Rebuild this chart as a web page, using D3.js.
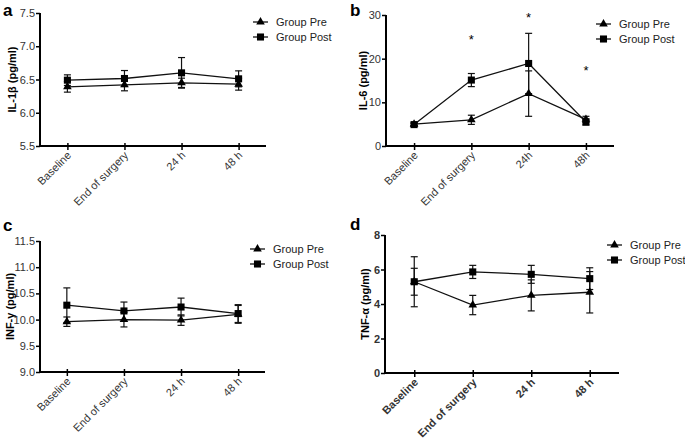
<!DOCTYPE html>
<html>
<head>
<meta charset="utf-8">
<script src="https://cdnjs.cloudflare.com/ajax/libs/d3/7.8.5/d3.min.js"></script>
<style>
  body { margin: 0; background: #fff; }
  svg { font-family: "Liberation Sans", Arial, sans-serif; }
</style>
</head>
<body>
<div class="graph"></div>
<script>
var width = 685;
var height = 440;

// categories
var catsA = ["Baseline", "End of surgery", "24 h", "48 h"];
var catsB = ["Baseline", "End of surgery", "24h", "48h"];
var catsC = ["Baseline", "End of surgery", "24 h", "48 h"];
var catsD = ["Baseline", "End of surgery", "24 h", "48 h"];

// panel a: IL-1b
var preA = [6.39, 6.42, 6.45, 6.43];
var preErrA = [0.08, 0.09, 0.07, 0.09];
var postA = [6.49, 6.515, 6.60, 6.51];
var postErrA = [0.08, 0.12, 0.23, 0.12];
var ticksA = [5.5, 6.0, 6.5, 7.0, 7.5];

// panel b: IL-6
var preB = [5.0, 6.0, 12.0, 6.1];
var preErrB = [0.3, 1.05, 5.2, 0.7];
var postB = [4.9, 15.1, 18.9, 5.5];
var postErrB = [0.3, 1.5, 6.9, 0.7];
var ticksB = [0, 10, 20, 30];
var starsB = [null, 25, 30, 17.8];

// panel c: INF-y
var preC = [9.96, 10.0, 9.99, 10.1];
var preErrC = [0.09, 0.14, 0.1, 0.17];
var postC = [10.275, 10.165, 10.24, 10.115];
var postErrC = [0.33, 0.17, 0.17, 0.17];
var ticksC = [9.0, 9.5, 10.0, 10.5, 11.0, 11.5];

// panel d: TNF-a
var preD = [5.29, 3.94, 4.50, 4.68];
var preErrD = [0.78, 0.56, 0.9, 1.2];
var postD = [5.29, 5.86, 5.72, 5.47];
var postErrD = [1.45, 0.38, 0.52, 0.63];
var ticksD = [0, 2, 4, 6, 8];

var seriesNames = ["Group Pre", "Group Post"];

var svg = d3.select(".graph").append("svg")
  .attr("width", width)
  .attr("height", height);

function drawPanel(p) {
    var g = svg.append("g");

    var x = d3.scalePoint()
        .domain(p.cats)
        .range([p.x0, p.x1])
        .padding(p.pad);

    var y = d3.scaleLinear()
        .domain([p.ticks[0], p.ticks[p.ticks.length - 1]])
        .range([p.y1, p.y0]);

    // y axis
    var yAxis = d3.axisLeft(y)
        .tickValues(p.ticks)
        .tickSize(4)
        .tickPadding(1)
        .tickFormat(p.fmt);
    var yg = g.append("g")
        .attr("transform", "translate(" + p.x0 + ",0)")
        .call(yAxis);
    yg.select(".domain").attr("stroke-width", 2).attr("d", "M0," + (p.y0) + "V" + (p.y1 + 1));
    yg.selectAll(".tick line").attr("stroke-width", 1.5);
    yg.selectAll(".tick text")
        .attr("fill", "#333")
        .style("font-size", "11px")
        .style("font-weight", p.boldTicks ? "bold" : "normal");

    // x axis
    var xAxis = d3.axisBottom(x).tickSize(4).tickSizeOuter(0);
    var xg = g.append("g")
        .attr("transform", "translate(0," + p.y1 + ")")
        .call(xAxis);
    xg.select(".domain").attr("stroke-width", 2).attr("d", "M" + (p.x0 - 1) + ",0H" + p.x1);
    xg.selectAll(".tick line").attr("y1", -3).attr("stroke-width", 1.5);
    xg.selectAll(".tick text")
        .attr("fill", "#333")
        .style("font-size", "11px")
        .style("font-weight", p.boldTicks ? "bold" : "normal")
        .style("text-anchor", "end")
        .attr("dy", null)
        .attr("y", null)
        .attr("transform", "translate(4,10) rotate(-45)");

    // y title
    g.append("text")
        .attr("transform", "translate(" + p.titleX + "," + ((p.y0 + p.y1) / 2) + ") rotate(-90)")
        .style("text-anchor", "middle")
        .style("font-size", "11px")
        .style("font-weight", "bold")
        .text(p.title);

    // panel letter
    g.append("text")
        .attr("x", p.letterX)
        .attr("y", p.letterY)
        .style("font-size", "17px")
        .style("font-weight", "bold")
        .text(p.letter);

    var series = [
        {mean: p.pre, err: p.preErr, shape: d3.symbolTriangle, size: 32},
        {mean: p.post, err: p.postErr, shape: d3.symbolSquare, size: 50}
    ];

    var line = d3.line()
        .x(function (d, i) { return x(p.cats[i]); })
        .y(function (d) { return y(d); });

    series.forEach(function (s) {
        // error bars
        s.mean.forEach(function (m, i) {
            var cx = x(p.cats[i]);
            var eb = g.append("g").attr("stroke", "#111").attr("stroke-width", 1.2);
            eb.append("line").attr("x1", cx).attr("x2", cx)
                .attr("y1", y(m - s.err[i])).attr("y2", y(m + s.err[i]));
            [m - s.err[i], m + s.err[i]].forEach(function (v) {
                eb.append("line").attr("x1", cx - 3.5).attr("x2", cx + 3.5)
                    .attr("y1", y(v)).attr("y2", y(v));
            });
        });
    });

    series.forEach(function (s) {
        g.append("path")
            .datum(s.mean)
            .attr("fill", "none")
            .attr("stroke", "#111")
            .attr("stroke-width", 1.3)
            .attr("d", line);
        g.selectAll(null)
            .data(s.mean)
            .enter()
            .append("path")
            .attr("transform", function (d, i) { return "translate(" + x(p.cats[i]) + "," + y(d) + ")"; })
            .attr("d", d3.symbol().type(s.shape).size(s.size))
            .attr("fill", "#000");
    });

    // asterisks
    if (p.stars) {
        p.stars.forEach(function (v, i) {
            if (v === null) return;
            g.append("text")
                .attr("x", x(p.cats[i]))
                .attr("y", y(v) + 7)
                .style("text-anchor", "middle")
                .style("font-size", "13px")
                .text("*");
        });
    }

    // legend
    seriesNames.forEach(function (name, i) {
        var ly = p.legY + i * 15;
        g.append("line")
            .attr("x1", p.legX).attr("x2", p.legX + 15)
            .attr("y1", ly).attr("y2", ly)
            .attr("stroke", "#111").attr("stroke-width", 1.3);
        g.append("path")
            .attr("transform", "translate(" + (p.legX + 7.5) + "," + ly + ")")
            .attr("d", d3.symbol().type(series[i].shape).size(series[i].size))
            .attr("fill", "#000");
        g.append("text")
            .attr("x", p.legX + 23)
            .attr("y", ly + 4)
            .style("font-size", "11px")
            .attr("fill", "#222")
            .text(name);
    });
}

drawPanel({
    cats: catsA, pre: preA, preErr: preErrA, post: postA, postErr: postErrA,
    ticks: ticksA, fmt: d3.format(".1f"),
    x0: 40, x1: 266, y0: 13, y1: 146, pad: 0.48,
    title: "IL-1\u03b2 (pg/ml)", titleX: 16, letter: "a", letterX: 3, letterY: 16,
    legX: 253, legY: 22, boldTicks: false
});

drawPanel({
    cats: catsB, pre: preB, preErr: preErrB, post: postB, postErr: postErrB,
    ticks: ticksB, fmt: d3.format("d"), stars: starsB,
    x0: 386, x1: 614, y0: 15, y1: 146, pad: 0.49,
    title: "IL-6 (pg/ml)", titleX: 367, letter: "b", letterX: 350, letterY: 16,
    legX: 596, legY: 24, boldTicks: false
});

drawPanel({
    cats: catsC, pre: preC, preErr: preErrC, post: postC, postErr: postErrC,
    ticks: ticksC, fmt: d3.format(".1f"),
    x0: 40, x1: 265, y0: 241, y1: 372, pad: 0.47,
    title: "INF-\u03b3 (pg/ml)", titleX: 14, letter: "c", letterX: 3, letterY: 231,
    legX: 250, legY: 249, boldTicks: false
});

drawPanel({
    cats: catsD, pre: preD, preErr: preErrD, post: postD, postErr: postErrD,
    ticks: ticksD, fmt: d3.format("d"),
    x0: 385, x1: 619, y0: 235, y1: 373, pad: 0.5,
    title: "TNF-\u03b1 (pg/ml)", titleX: 369, letter: "d", letterX: 350, letterY: 230,
    legX: 607, legY: 245, boldTicks: true
});
</script>
</body>
</html>
